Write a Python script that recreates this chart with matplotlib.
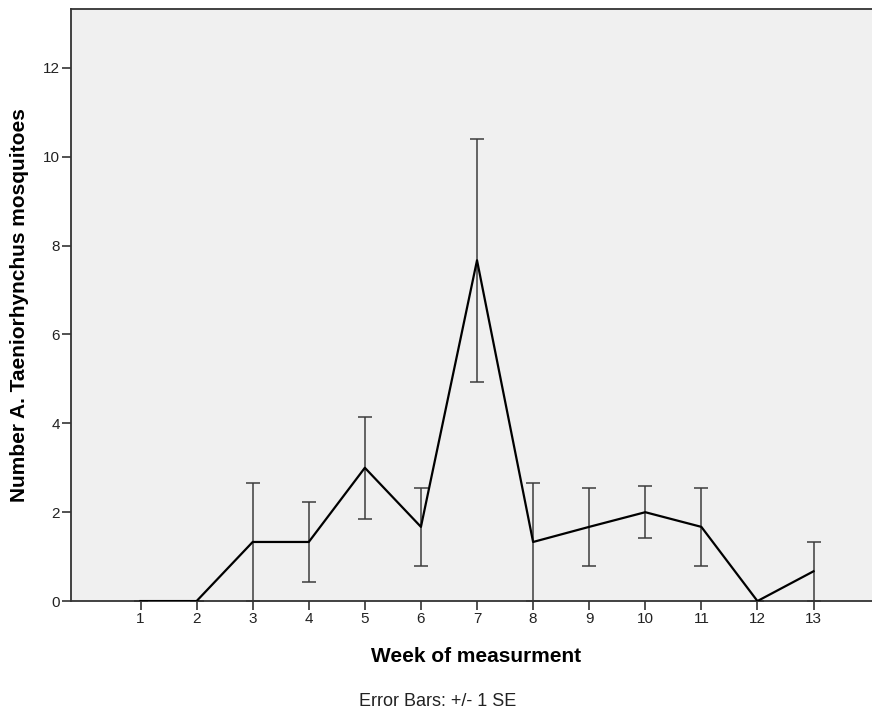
import matplotlib.pyplot as plt
import numpy as np

plt.rcParams['font.family'] = ['Liberation Sans', 'DejaVu Sans']

weeks = [1, 2, 3, 4, 5, 6, 7, 8, 9, 10, 11, 12, 13]
mean_count = [0, 0, 1.33, 1.33, 3.0, 1.67, 7.67, 1.33, 1.67, 2.0, 1.67, 0, 0.67]
std_error = [0, 0, 1.33, 0.89, 1.15, 0.88, 2.73, 1.33, 0.88, 0.58, 0.88, 0, 0.67]

fig = plt.figure(figsize=(8.72, 7.13), dpi=100)
ax = fig.add_axes([0.0814, 0.157, 0.93, 0.8306])
ax.set_facecolor('#f0f0f0')

ax.errorbar(weeks, mean_count, yerr=std_error, fmt='none', ecolor='#3c3c3c',
            elinewidth=1.1, capsize=5.2, capthick=1.1, zorder=2)
ax.plot(weeks, mean_count, color='black', linewidth=1.6, zorder=3)

ax.set_xlim(-0.24, 14.22)
ax.set_ylim(0, 13.33)
ax.set_xticks(weeks)
ax.set_yticks(np.arange(0, 13, 2))

for side in ['left', 'bottom', 'top', 'right']:
    ax.spines[side].set_color('#333333')
    ax.spines[side].set_linewidth(1.3)

ax.tick_params(axis='both', direction='out', length=6.5, width=1.2,
               color='#333333', labelsize=11, labelcolor='#222222', pad=1.5)

ax.set_xlabel('Week of measurment', fontsize=15, fontweight='bold', va='center')
ax.xaxis.set_label_coords(0.5, -0.093)
ax.set_ylabel('Number A. Taeniorhynchus mosquitoes', fontsize=15,
              fontweight='bold', va='center')
ax.yaxis.set_label_coords(-0.064, 0.5)

fig.text(0.502, 0.0168, 'Error Bars: +/- 1 SE', ha='center', va='center',
         fontsize=13, color='#222222')

fig.savefig('out.png', dpi=100)
